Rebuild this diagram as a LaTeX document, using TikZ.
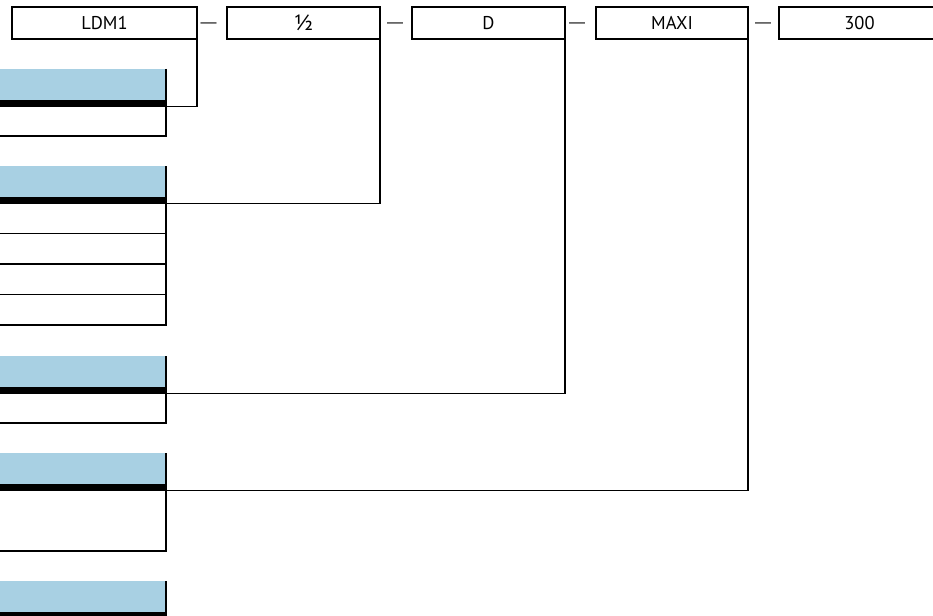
\documentclass[tikz,border=0pt]{standalone}
\usepackage{fontspec}
\setmainfont{PT Sans}
\newfontfamily\dashfont{Liberation Sans}
\definecolor{hblue}{HTML}{A8D0E3}
\begin{document}
\begin{tikzpicture}[x=1pt,y=-1pt,
  topbox/.style={draw, line width=1.5pt, minimum height=32pt, inner sep=0pt, outer sep=0pt, anchor=north west, font=\fontsize{18.5}{20}\selectfont},
  hdr/.style={fill=hblue, minimum width=168pt, minimum height=31pt, inner sep=0pt, outer sep=0pt, anchor=north west},
  barbox/.style={fill=black, minimum width=168pt, minimum height=6.5pt, inner sep=0pt, outer sep=0pt, anchor=north west},
  rowbox/.style={draw, line width=1.6pt, minimum width=168pt, inner sep=0pt, outer sep=0pt, anchor=north west},
  sep/.style={font=\dashfont\fontsize{16}{18}\selectfont, inner sep=0pt},
  link/.style={line width=1.5pt}]
\useasboundingbox (0,0) rectangle (933,615);
\begin{scope}
\clip (0,0) rectangle (933,615);
% top boxes
\node[topbox, minimum width=185pt] (ldm) at (12,7) {LDM1};
\node[topbox, minimum width=153pt] (half) at (227,7) {\fontsize{22}{24}\selectfont ½};
\node[topbox, minimum width=153pt] (dd) at (412,7) {D};
\node[topbox, minimum width=152pt] (maxi) at (596,7) {MAXI};
\node[topbox, minimum width=161pt] (three) at (779,7) {300};
\node[sep] (s1) at (208.5,25) {—};
\node[sep] (s2) at (395,25) {—};
\node[sep] (s3) at (577,25) {—};
\node[sep] (s4) at (763,25) {—};
% block 1
\node[hdr] (h1) at (-2,69) {};
\node[rowbox, minimum height=30pt] (r11) at (-2,106) {};
\node[barbox] (b1) at (-2,100) {};
\draw[link] (h1.north east) -- (r11.south east);
% block 2
\node[hdr] (h2) at (-2,166) {};
\node[rowbox, minimum height=30.5pt] (r21) at (-2,203) {};
\node[rowbox, minimum height=30.5pt] (r22) at (-2,233.5) {};
\node[rowbox, minimum height=30.5pt] (r23) at (-2,264) {};
\node[rowbox, minimum height=30.5pt] (r24) at (-2,294.5) {};
\node[barbox] (b2) at (-2,197) {};
\draw[link] (h2.north east) -- (r24.south east);
% block 3
\node[hdr] (h3) at (-2,356) {};
\node[rowbox, minimum height=30pt] (r31) at (-2,393) {};
\node[barbox] (b3) at (-2,387) {};
\draw[link] (h3.north east) -- (r31.south east);
% block 4
\node[hdr] (h4) at (-2,453) {};
\node[rowbox, minimum height=61pt] (r41) at (-2,490) {};
\node[barbox] (b4) at (-2,484) {};
\draw[link] (h4.north east) -- (r41.south east);
% block 5
\node[hdr] (h5) at (-2,581) {};
\node[barbox] (b5) at (-2,612) {};
\draw[link] (h5.north east) -- ([yshift=-10pt]h5.south east);
% connectors
\draw[link] (ldm.north east) |- (b1.south east);
\draw[link] (half.north east) |- (b2.south east);
\draw[link] (dd.north east) |- (b3.south east);
\draw[link] (maxi.north east) |- (b4.south east);
\end{scope}
\end{tikzpicture}
\end{document}
